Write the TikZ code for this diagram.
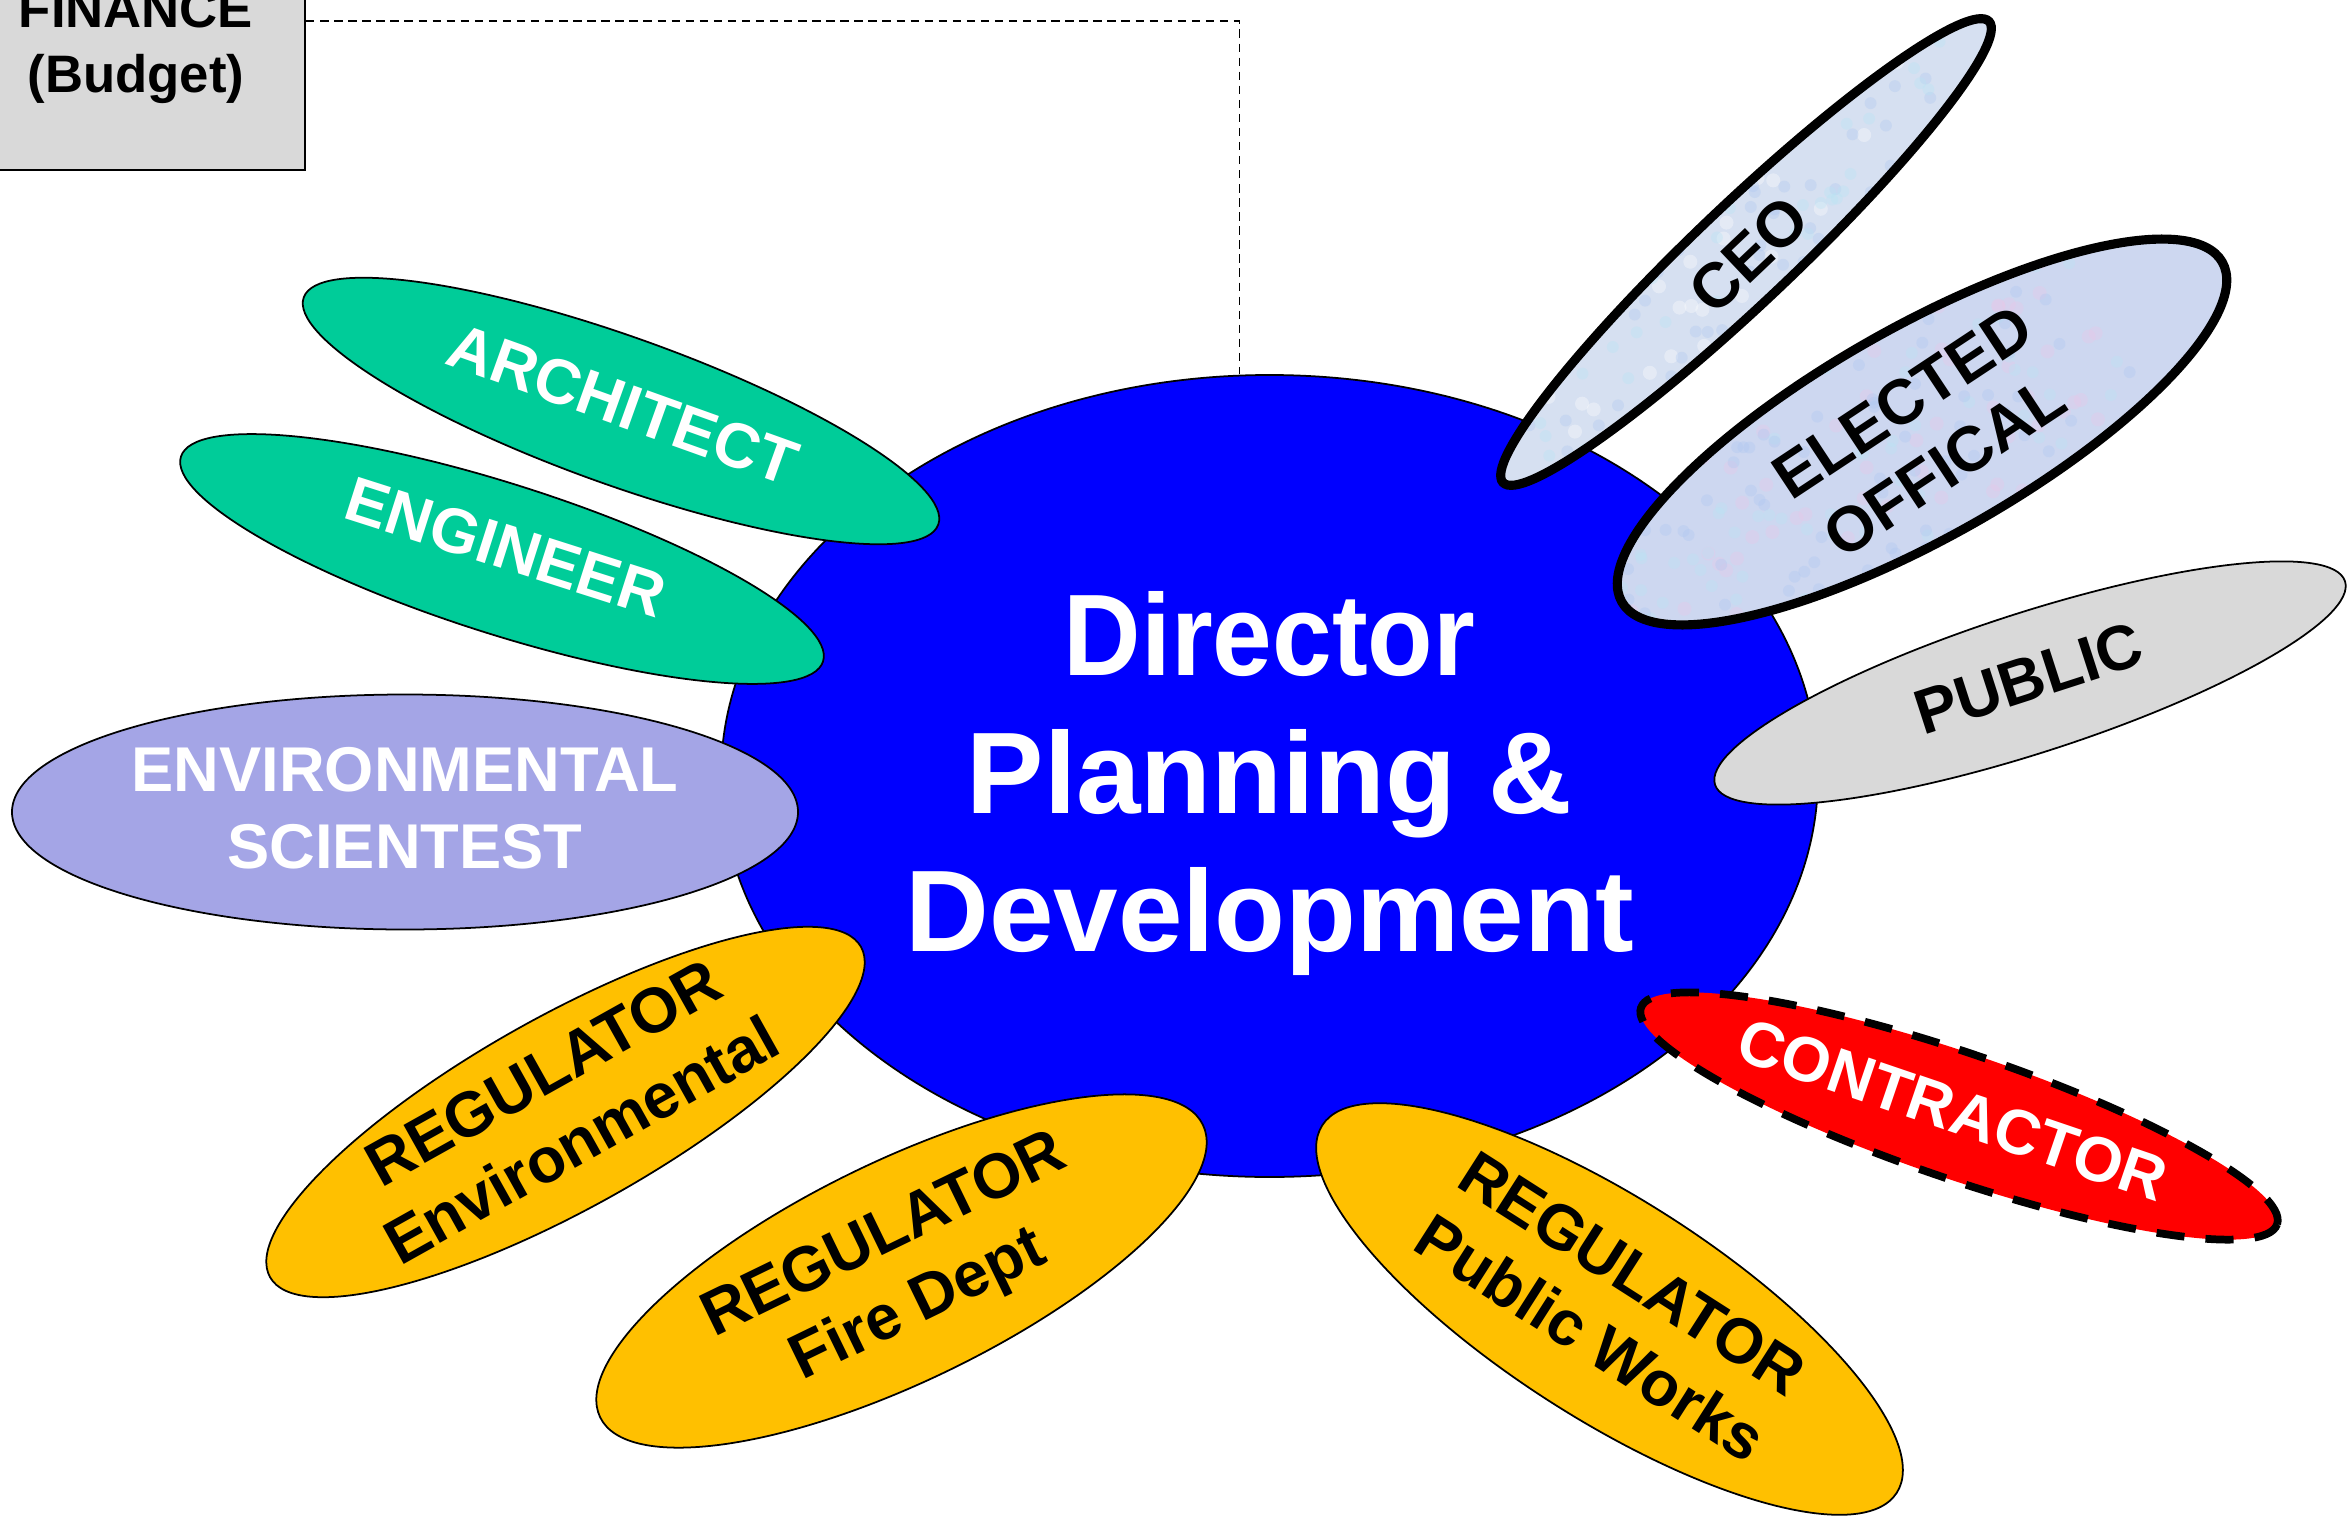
\documentclass[tikz,border=0pt]{standalone}
\usepackage{fontspec}
\setmainfont{Liberation Sans}
\usetikzlibrary{shapes.geometric}
\definecolor{dirblue}{RGB}{0,0,255}
\definecolor{petalgreen}{RGB}{0,204,153}
\definecolor{envpurple}{RGB}{164,165,230}
\definecolor{regold}{RGB}{255,192,0}
\definecolor{pubgray}{RGB}{217,217,217}
\definecolor{ceoblue}{RGB}{214,224,241}
\definecolor{eleblue}{RGB}{205,215,240}
\definecolor{texpink}{RGB}{232,200,232}
\definecolor{texcyan}{RGB}{185,228,244}
\definecolor{texblue}{RGB}{175,200,240}
\newcommand\ptext[2][-2pt]{\smash{\raisebox{#1}{\begin{tabular}{@{}c@{}}#2\end{tabular}}}}
\pgfmathsetseed{7}
\tikzset{
  petal/.style={ellipse, draw=black, line width=0.5pt, inner sep=0pt, outer sep=0pt,
    font=\fontsize{18}{22}\selectfont\bfseries},
  boldpetal/.style={petal, line width=2.6pt},
  conn/.style={draw=black, line width=0.45pt, dash pattern=on 2.4pt off 1.6pt},
  mottle/.style n args={3}{path picture={
    \begin{scope}[shift={(path picture bounding box.center)}]
      \foreach \k in {1,...,260}{\fill[#1, opacity=0.35] (3.6*rand, 3.6*rand) circle (0.07);}
      \foreach \k in {1,...,260}{\fill[#2, opacity=0.35] (3.6*rand, 3.6*rand) circle (0.06);}
      \foreach \k in {1,...,260}{\fill[#3, opacity=0.35] (3.6*rand, 3.6*rand) circle (0.06);}
    \end{scope}}}
}
\begin{document}
\begin{tikzpicture}
\useasboundingbox (0,0) rectangle (23.51,-15.16);
% finance box
\node[rectangle, draw=black, line width=0.6pt, fill=pubgray, inner sep=0pt,
  minimum width=3.38cm, minimum height=2.98cm,
  font=\fontsize{15}{18.5}\selectfont\bfseries] (fin) at (1.36,-0.21)
  {\ptext[-11.1pt]{FINANCE\\(Budget)}};
% central ellipse
\node[ellipse, draw=black, line width=0.5pt, fill=dirblue, inner sep=0pt,
  minimum width=10.97cm, minimum height=8.02cm, text=white,
  font=\fontsize{33}{39.3}\selectfont\bfseries] (dir) at (12.695,-7.76)
  {\ptext[-9.1pt]{\scalebox{0.925}[1]{Director}\\Planning \&\\Development}};
\draw[conn] (fin.east) -| ([xshift=-0.30cm]dir.north);
% petals
\node[petal, fill=petalgreen, text=white, minimum width=6.74cm, minimum height=1.48cm,
  rotate=-19.7] (arch) at (6.21,-4.11) {\ptext[-4.2pt]{ARCHITECT}};
\node[petal, fill=petalgreen, text=white, minimum width=6.74cm, minimum height=1.50cm,
  rotate=-17.7] (eng) at (5.02,-5.59) {\ptext[-2.6pt]{ENGINEER}};
\node[petal, fill=envpurple, text=white, minimum width=7.86cm, minimum height=2.35cm]
  (env) at (4.05,-8.12) {\ptext[-5pt]{ENVIRONMENTAL\\SCIENTEST}};
\node[petal, fill=regold, minimum width=6.77cm, minimum height=1.92cm,
  rotate=29.2] (regenv) at (5.655,-11.12) {\ptext[-4.3pt]{REGULATOR\\Environmental}};
\node[petal, fill=regold, minimum width=6.70cm, minimum height=2.20cm,
  rotate=25.9] (regfire) at (9.015,-12.71) {\ptext[-4.7pt]{REGULATOR\\Fire Dept}};
\node[petal, fill=regold, minimum width=6.82cm, minimum height=2.20cm,
  rotate=-32.6] (regpw) at (16.095,-13.09) {\ptext[-5pt]{REGULATOR\\Public Works}};
\node[petal, fill=red, text=white, line width=2.2pt, dash pattern=on 8pt off 6pt,
  minimum width=6.72cm, minimum height=1.26cm, rotate=-18.8] (con) at (19.59,-11.16)
  {\ptext[-5pt]{CONTRACTOR\hspace*{4.6pt}}};
\node[petal, fill=pubgray, minimum width=6.62cm, minimum height=1.40cm,
  rotate=17.9] (pub) at (20.30,-6.83) {\ptext[-4.7pt]{PUBLIC}};
\node[boldpetal, fill=ceoblue, mottle={white}{texblue}{texcyan},
  minimum width=6.70cm, minimum height=0.98cm,
  rotate=43.5] (ceo) at (17.46,-2.52) {\ptext[-7.3pt]{CEO}};
\node[boldpetal, fill=eleblue, mottle={texpink}{texcyan}{texblue},
  minimum width=6.90cm, minimum height=2.10cm,
  rotate=29.5] (ele) at (19.22,-4.32) {\rotatebox{4}{\ptext[-6.9pt]{ELECTED\\OFFICAL}}};
\end{tikzpicture}
\end{document}
